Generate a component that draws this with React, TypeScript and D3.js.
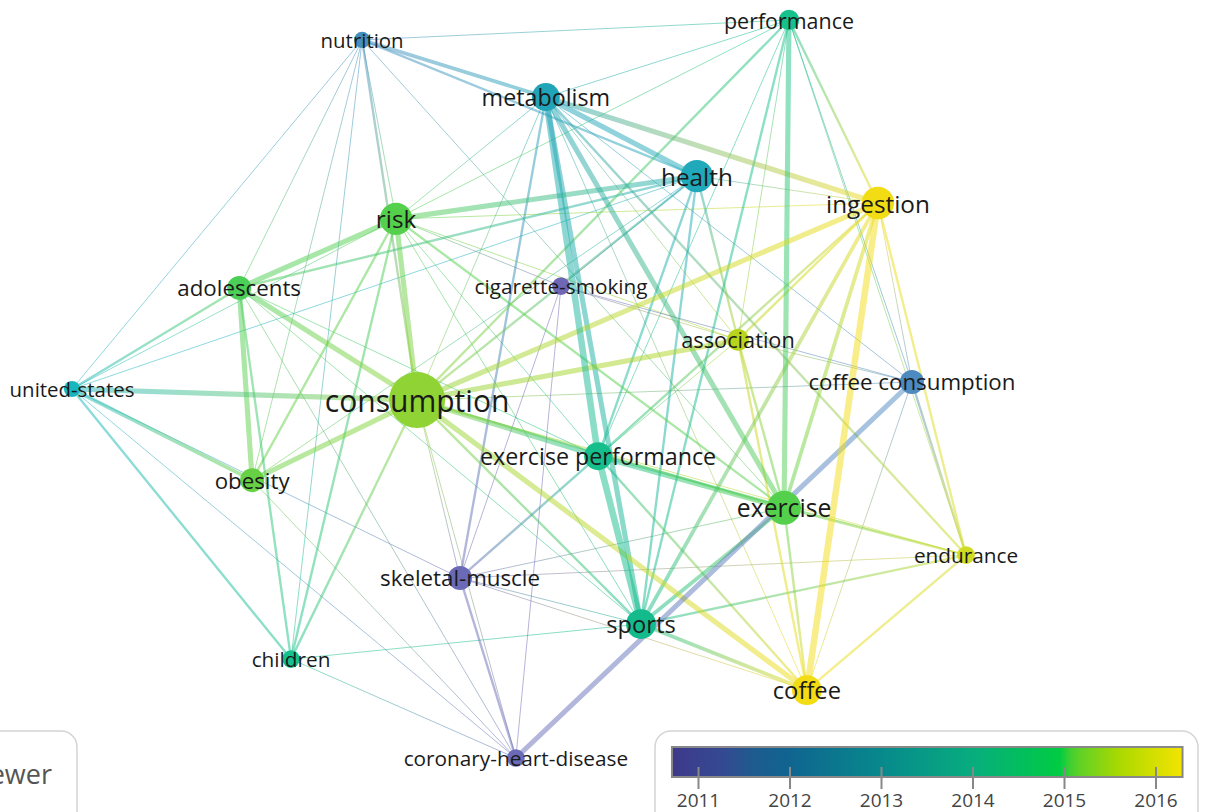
import React from 'react';
import * as d3 from 'd3';

// keyword layout (VOSviewer style coordinates), occurrences and avg. publication year
const keywords = ['nutrition', 'performance', 'metabolism', 'health', 'ingestion', 'risk', 'adolescents',
  'cigarette-smoking', 'association', 'united-states', 'consumption', 'coffee consumption',
  'exercise performance', 'obesity', 'exercise', 'endurance', 'skeletal-muscle', 'sports', 'children',
  'coffee', 'coronary-heart-disease'];
const layoutX = [-0.351, 0.604, 0.060, 0.398, 0.803, -0.275, -0.626, 0.094, 0.490, -1.0, -0.228, 0.879,
  0.177, -0.597, 0.593, 1.0, -0.132, 0.273, -0.510, 0.644, -0.007];
const layoutY = [-0.946, -1.0, -0.791, -0.577, -0.504, -0.461, -0.274, -0.279, -0.133, 0.0, 0.030, -0.019,
  0.182, 0.247, 0.322, 0.450, 0.512, 0.637, 0.732, 0.816, 1.0];
const occurrences = [5, 8, 15, 20, 20, 20, 11, 6, 9, 5, 60, 11, 15, 11, 22, 6, 11, 17, 6, 17, 6];
const avgYear = [2012.1, 2014.0, 2012.8, 2012.9, 2016.1, 2014.8, 2014.7, 2011.0, 2015.65, 2013.2, 2015.3,
  2011.95, 2013.9, 2014.95, 2014.8, 2015.85, 2011.1, 2013.8, 2014.0, 2016.1, 2011.1];

const links = [
  ['nutrition', 'performance', 1], ['nutrition', 'metabolism', 3], ['nutrition', 'health', 2],
  ['nutrition', 'united-states', 1], ['nutrition', 'adolescents', 1], ['nutrition', 'consumption', 2],
  ['nutrition', 'risk', 1], ['nutrition', 'obesity', 1], ['nutrition', 'exercise', 1], ['nutrition', 'children', 1],
  ['metabolism', 'health', 4], ['metabolism', 'ingestion', 4], ['metabolism', 'performance', 1],
  ['metabolism', 'sports', 4], ['metabolism', 'exercise performance', 5], ['metabolism', 'exercise', 4],
  ['metabolism', 'coffee', 1], ['metabolism', 'skeletal-muscle', 2], ['metabolism', 'endurance', 2],
  ['metabolism', 'association', 1], ['metabolism', 'coffee consumption', 1], ['metabolism', 'risk', 1],
  ['metabolism', 'consumption', 1],
  ['health', 'risk', 4], ['health', 'adolescents', 2], ['health', 'consumption', 2], ['health', 'association', 2],
  ['health', 'cigarette-smoking', 1], ['health', 'exercise performance', 2], ['health', 'obesity', 1],
  ['health', 'ingestion', 1], ['health', 'sports', 2], ['health', 'united-states', 1],
  ['performance', 'exercise', 4], ['performance', 'sports', 2], ['performance', 'ingestion', 2],
  ['performance', 'coffee consumption', 1], ['performance', 'endurance', 1], ['performance', 'risk', 1],
  ['performance', 'consumption', 2], ['performance', 'exercise performance', 1], ['performance', 'association', 1],
  ['ingestion', 'consumption', 4], ['ingestion', 'coffee', 5], ['ingestion', 'exercise', 3],
  ['ingestion', 'sports', 3], ['ingestion', 'endurance', 2], ['ingestion', 'association', 2],
  ['ingestion', 'exercise performance', 2], ['ingestion', 'coffee consumption', 1], ['ingestion', 'risk', 1],
  ['risk', 'adolescents', 4], ['risk', 'consumption', 4], ['risk', 'obesity', 2], ['risk', 'children', 2],
  ['risk', 'united-states', 1], ['risk', 'association', 1], ['risk', 'exercise', 2],
  ['risk', 'cigarette-smoking', 1], ['risk', 'exercise performance', 1], ['risk', 'sports', 1],
  ['adolescents', 'consumption', 4], ['adolescents', 'obesity', 4], ['adolescents', 'children', 2],
  ['adolescents', 'united-states', 2], ['adolescents', 'exercise performance', 1], ['adolescents', 'sports', 1],
  ['consumption', 'united-states', 4], ['consumption', 'exercise performance', 4], ['consumption', 'exercise', 2],
  ['consumption', 'coffee', 4], ['consumption', 'association', 4], ['consumption', 'obesity', 4],
  ['consumption', 'children', 2], ['consumption', 'sports', 2], ['consumption', 'skeletal-muscle', 1],
  ['consumption', 'coronary-heart-disease', 1], ['consumption', 'coffee consumption', 1], ['consumption', 'endurance', 1],
  ['united-states', 'obesity', 3], ['united-states', 'children', 2], ['united-states', 'coronary-heart-disease', 1],
  ['united-states', 'skeletal-muscle', 1],
  ['exercise performance', 'exercise', 4], ['exercise performance', 'sports', 5], ['exercise performance', 'endurance', 1],
  ['exercise performance', 'coffee', 2], ['exercise performance', 'skeletal-muscle', 2], ['exercise performance', 'association', 1],
  ['exercise', 'endurance', 2], ['exercise', 'coffee', 2], ['exercise', 'sports', 3], ['exercise', 'association', 2],
  ['exercise', 'skeletal-muscle', 1],
  ['coffee consumption', 'coronary-heart-disease', 4], ['coffee consumption', 'endurance', 2],
  ['coffee consumption', 'association', 1], ['coffee consumption', 'cigarette-smoking', 1], ['coffee consumption', 'coffee', 1],
  ['sports', 'coffee', 3], ['sports', 'endurance', 2], ['sports', 'skeletal-muscle', 1], ['sports', 'children', 1],
  ['coffee', 'endurance', 2], ['coffee', 'association', 2], ['coffee', 'skeletal-muscle', 1],
  ['coronary-heart-disease', 'cigarette-smoking', 1], ['coronary-heart-disease', 'skeletal-muscle', 2],
  ['coronary-heart-disease', 'obesity', 1], ['coronary-heart-disease', 'children', 1], ['coronary-heart-disease', 'adolescents', 1],
  ['skeletal-muscle', 'endurance', 1], ['cigarette-smoking', 'association', 1], ['cigarette-smoking', 'skeletal-muscle', 1],
];

const legendYears = [2011, 2012, 2013, 2014, 2015, 2016];
// legend bar colours
const gradientYears = [2010.7, 2011.3, 2011.6, 2012, 2013, 2014, 2014.95, 2015.1, 2015.6, 2016.3];
const gradientColors = ['#3e398a', '#334a92', '#1d5b8e', '#0f6590', '#07898c', '#07ad7e', '#00cc42',
  '#55d02c', '#abd900', '#f5e400'];
// node colours (lighter rendering of the same scale)
const nodeYears = [2011.0, 2011.5, 2012.0, 2012.8, 2013.2, 2013.8, 2014.2, 2014.8, 2015.3, 2015.65, 2015.9, 2016.1];
const nodeColors = ['#6f66b6', '#5c7abb', '#4a8cc0', '#22a4b8', '#1ab6be', '#12ba8c', '#1cc88a', '#55d04c',
  '#8fd334', '#b8d51c', '#d6dc26', '#f2dc14'];

const W = 1211, H = 812;
const FONT = '"Open Sans", "Noto Sans", sans-serif';

export default function App() {
  const x = d3.scaleLinear().domain([-1, 1]).range([72, 966]);
  const y = d3.scaleLinear().domain([-1, 1]).range([20, 758]);
  const r = d3.scaleSqrt().domain([0, 60]).range([0, 28]);
  const fontSize = (w: number) => 16.5 + 1.75 * Math.sqrt(w);
  const color = d3.scaleLinear<string>().domain(gradientYears).range(gradientColors)
    .interpolate(d3.interpolateRgb).clamp(true);
  const nodeColor = d3.scaleLinear<string>().domain(nodeYears).range(nodeColors)
    .interpolate(d3.interpolateRgb).clamp(true);
  const width = d3.scaleLinear().domain([1, 5]).range([1, 6.5]);

  const nodes = keywords.map((k, i) => ({
    name: k, x: x(layoutX[i]), y: y(layoutY[i]), r: r(occurrences[i]),
    w: occurrences[i], year: avgYear[i],
  }));
  const byName = new Map(nodes.map(n => [n.name, n]));
  const edges = links.map(([s, t, v]) => {
    const a = byName.get(s as string)!, b = byName.get(t as string)!;
    return { a, b, v: v as number };
  }).sort((p, q) => p.v - q.v);

  // legend
  const lx = d3.scaleLinear().domain([2011, 2016]).range([698.5, 1156]);
  const barX0 = lx(2010.71), barX1 = lx(2016.29);
  const stops = d3.range(0, 1.0001, 0.02).map(t => {
    const yr = lx.invert(barX0 + t * (barX1 - barX0));
    return { t, c: color(yr) };
  });

  return (
    <svg width={W} height={H} style={{ position: 'absolute', left: 0, top: 0, background: '#fff' }}
      fontFamily={FONT}>
      <defs>
        <linearGradient id="yearGrad" x1="0" x2="1" y1="0" y2="0">
          {stops.map((s, i) => <stop key={i} offset={s.t} stopColor={s.c} />)}
        </linearGradient>
        {edges.map((e, i) => (
          <linearGradient key={i} id={`eg${i}`} gradientUnits="userSpaceOnUse"
            x1={e.a.x} y1={e.a.y} x2={e.b.x} y2={e.b.y}>
            <stop offset="0" stopColor={nodeColor(e.a.year)} />
            <stop offset="1" stopColor={nodeColor(e.b.year)} />
          </linearGradient>
        ))}
      </defs>
      <g>
        {edges.map((e, i) => (
          <line key={i} x1={e.a.x} y1={e.a.y} x2={e.b.x} y2={e.b.y}
            stroke={`url(#eg${i})`} strokeOpacity={0.5} strokeWidth={width(e.v)} />
        ))}
      </g>
      <g>
        {nodes.map(n => (
          <circle key={n.name} cx={n.x} cy={n.y} r={n.r} fill={nodeColor(n.year)} />
        ))}
      </g>
      <g>
        {nodes.map(n => (
          <text key={n.name} x={n.x} y={n.y} textAnchor="middle" dominantBaseline="central"
            fontSize={fontSize(n.w)} fill="#1a1a1a">{n.name}</text>
        ))}
      </g>

      {/* VOSviewer logo box, cut off at the left */}
      <rect x={-40} y={731} width={117} height={110} rx={16} fill="#fff" stroke="#d4d4d4" strokeWidth={1.5} />
      <text x={52} y={773} textAnchor="end" dominantBaseline="central" fontSize={27} fill="#555">VOSviewer</text>

      {/* overlay colour legend */}
      <rect x={655} y={731} width={543} height={110} rx={16} fill="#fff" stroke="#d4d4d4" strokeWidth={1.5} />
      <rect x={barX0} y={747} width={barX1 - barX0} height={30} fill="url(#yearGrad)" stroke="#888" strokeWidth={2} />
      {legendYears.map(yr => (
        <g key={yr}>
          <line x1={lx(yr)} x2={lx(yr)} y1={767} y2={789} stroke="#888" strokeWidth={2} />
          <text x={lx(yr)} y={800} textAnchor="middle" dominantBaseline="central" fontSize={19} fill="#444">{yr}</text>
        </g>
      ))}
    </svg>
  );
}
